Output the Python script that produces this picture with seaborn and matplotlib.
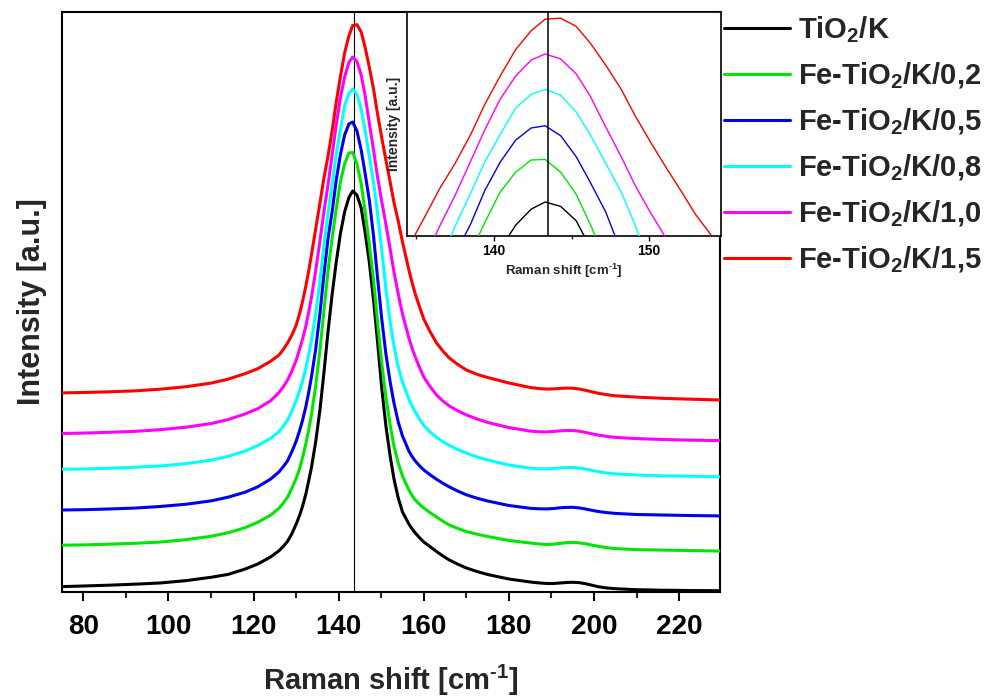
import numpy as np
import pandas as pd
import matplotlib
matplotlib.use("Agg")
import matplotlib.pyplot as plt
from matplotlib import font_manager
from matplotlib.lines import Line2D
from matplotlib.ticker import MultipleLocator
import seaborn as sns

# Raman shift axis (cm^-1), shared by all spectra
raman_shift = [75, 80, 86, 92, 98, 104, 110, 114, 118, 121,
               124, 126, 127, 128, 129, 130, 130.8, 131.5, 132.3, 133,
               133.6, 134.6, 135.6, 136.5, 137.5, 138.5, 139.4, 140.4, 141.4, 142.4,
               143.3, 144.3, 145.3, 146.2, 147.2, 148.2, 149.1, 150.1, 151.1, 152.1,
               153.0, 154.0, 155.0, 156.5, 157.2, 158, 159, 160, 161.5, 163,
               164.5, 166, 168, 170, 172.5, 175, 180, 185, 187, 189,
               190.5, 192, 193.5, 195, 196.5, 198, 199.5, 201, 203, 205,
               210, 216, 222, 229.6]

# Stacked (offset) intensities, arbitrary units
tio2_k = [5.4, 6.0, 6.8, 7.8, 9.0, 11.3, 14.7, 17.6, 22.9, 28.0,
          35.0, 41.3, 45.6, 50.7, 58.2, 67.7, 76.4, 85.5, 98.1, 112.0,
          124.3, 150.0, 182.0, 217.6, 260.4, 298.8, 328.9, 358.1, 380.0, 394.5,
          401.0, 397.0, 384.0, 360.0, 330.0, 292.0, 252.0, 205.0, 166.0, 136.0,
          113.0, 94.0, 80.0, 68.0, 63.5, 59.0, 54.3, 50.0, 45.3, 40.5,
          36.0, 32.0, 27.8, 24.0, 20.5, 17.5, 13.0, 10.0, 9.1, 8.5,
          8.5, 9.0, 9.5, 9.7, 9.4, 8.3, 6.8, 5.3, 4.0, 3.3,
          2.3, 1.8, 1.5, 1.3]
fe_tio2_k_02 = [46.8, 47.1, 47.8, 48.7, 49.9, 52.3, 55.7, 59.2, 64.3, 69.7,
                76.8, 83.8, 88.9, 94.9, 103.6, 113.4, 122.9, 134.0, 148.5, 162.8,
                177.0, 206.0, 241.5, 280.0, 321.0, 355.0, 382.0, 410.0, 428.0, 439.0,
                439.5, 428.0, 408.0, 381.0, 348.0, 312.0, 272.0, 230.0, 195.0, 167.0,
                146.0, 129.0, 116.0, 102.0, 96.8, 92.0, 87.7, 84.0, 79.3, 75.0,
                70.8, 67.0, 63.5, 60.5, 57.8, 55.5, 51.5, 49.0, 48.1, 47.5,
                47.8, 48.6, 49.3, 49.6, 49.2, 48.2, 46.9, 45.7, 44.3, 43.4,
                42.4, 41.9, 41.5, 40.9]
fe_tio2_k_05 = [82.0, 82.3, 83.0, 83.9, 85.5, 87.7, 91.1, 94.8, 99.8, 105.2,
                112.9, 120.2, 125.4, 131.2, 140.2, 150.6, 161.0, 171.4, 185.5, 200.6,
                214.7, 242.8, 278.3, 315.8, 353.5, 381.0, 411.0, 437.0, 457.0, 468.0,
                470.0, 461.0, 442.0, 419.0, 392.0, 356.0, 316.0, 274.0, 238.0, 210.0,
                189.0, 170.0, 156.0, 141.0, 135.8, 131.0, 126.2, 122.0, 117.2, 112.7,
                108.7, 105.1, 100.9, 97.2, 93.8, 91.0, 86.5, 83.7, 83.2, 83.1,
                83.5, 84.2, 84.6, 84.7, 84.1, 83.0, 81.7, 80.5, 79.4, 78.6,
                77.5, 77.0, 76.5, 76.1]
fe_tio2_k_08 = [122.8, 123.0, 123.7, 124.7, 126.0, 128.3, 131.8, 135.6, 140.8, 146.4,
                153.6, 160.4, 165.8, 171.9, 180.8, 191.1, 200.8, 210.6, 224.0, 238.2,
                251.3, 278.3, 311.0, 345.6, 379.0, 409.0, 437.0, 462.0, 486.0, 498.5,
                503.0, 497.6, 482.5, 462.0, 436.0, 410.0, 380.0, 343.0, 303.0, 270.0,
                246.0, 225.0, 210.0, 193.0, 186.5, 180.0, 173.0, 166.5, 160.0, 154.6,
                150.3, 146.6, 142.5, 138.9, 135.1, 131.9, 127.0, 123.8, 123.2, 123.1,
                123.5, 124.1, 124.5, 124.6, 124.0, 122.9, 121.6, 120.3, 119.0, 118.1,
                117.0, 116.2, 115.8, 115.2]
fe_tio2_k_10 = [158.5, 158.9, 159.7, 160.6, 162.3, 164.7, 168.4, 172.4, 178.0, 183.3,
                191.2, 199.5, 205.3, 211.9, 220.9, 231.4, 242.4, 252.6, 266.0, 280.7,
                294.4, 321.0, 351.0, 379.0, 407.0, 438.0, 466.0, 494.0, 515.0, 529.5,
                535.0, 530.5, 517.0, 497.0, 469.0, 442.0, 416.0, 391.0, 368.0, 343.0,
                320.0, 298.0, 278.0, 254.0, 244.5, 235.0, 224.6, 215.0, 205.3, 197.0,
                191.0, 186.0, 181.2, 177.1, 173.0, 169.6, 164.4, 160.9, 160.2, 160.1,
                160.5, 161.1, 161.5, 161.5, 160.8, 159.6, 158.2, 156.9, 155.6, 154.6,
                153.4, 152.5, 151.9, 151.4]
fe_tio2_k_15 = [199.1, 199.5, 200.2, 201.1, 202.8, 205.2, 208.9, 212.8, 218.3, 223.3,
                230.7, 237.0, 242.6, 249.0, 256.8, 266.5, 278.0, 290.0, 306.0, 322.0,
                337.0, 363.0, 389.0, 413.0, 436.0, 462.0, 489.0, 515.0, 539.0, 556.0,
                566.5, 567.4, 560.0, 545.0, 525.0, 503.0, 479.0, 455.0, 432.0, 410.0,
                389.5, 371.0, 350.0, 322.0, 310.3, 298.0, 285.2, 273.0, 260.2, 249.0,
                240.9, 234.0, 227.5, 222.0, 217.7, 214.5, 209.0, 204.5, 203.4, 202.9,
                203.1, 203.6, 203.9, 203.8, 203.0, 201.7, 200.2, 198.7, 197.3, 196.2,
                194.9, 193.7, 192.9, 192.0]

sample_names = ["TiO$_2$/K", "Fe-TiO$_2$/K/0,2", "Fe-TiO$_2$/K/0,5",
                "Fe-TiO$_2$/K/0,8", "Fe-TiO$_2$/K/1,0", "Fe-TiO$_2$/K/1,5"]
line_colors = ["#000000", "#00e600", "#0000ee", "#00ffff", "#ff00ff", "#ff0000"]
peak_position = 143.5
main_ticks = [80, 100, 120, 140, 160, 180, 200, 220]
inset_ticks = [140, 150]
x_title = "Raman shift [cm$^{\u20101}$]"
y_title = "Intensity [a.u.]"

sns.set_theme(style="white")
installed = {f.name for f in font_manager.fontManager.ttflist}
narrow = "Liberation Sans Narrow" if "Liberation Sans Narrow" in installed else "Liberation Sans"
plt.rcParams.update({
    "font.family": ["Liberation Sans", "DejaVu Sans"],
    "font.weight": "bold",
    "mathtext.fontset": "custom",
    "mathtext.rm": "Liberation Sans:bold",
    "mathtext.bf": "Liberation Sans:bold",
    "mathtext.it": "Liberation Sans:bold:italic",
    "mathtext.default": "rm",
    "axes.edgecolor": "black",
})

spectra = [tio2_k, fe_tio2_k_02, fe_tio2_k_05, fe_tio2_k_08, fe_tio2_k_10, fe_tio2_k_15]
df = pd.DataFrame({
    "shift": np.tile(raman_shift, len(spectra)),
    "intensity": np.concatenate(spectra),
    "sample": np.repeat(sample_names, len(raman_shift)),
})

W, H = 988, 698
fig = plt.figure(figsize=(W / 100, H / 100), dpi=100)

# ---- main panel ----
ax = fig.add_axes([62 / W, 1 - 592 / H, 658 / W, 580 / H])
sns.lineplot(data=df, x="shift", y="intensity", hue="sample", hue_order=sample_names,
             palette=line_colors, linewidth=2.2, estimator=None, sort=False,
             legend=False, ax=ax, zorder=3, solid_joinstyle="round")
ax.axvline(peak_position, color="black", lw=0.8, zorder=2)
ax.set_xlim(75, 229.6)
ax.set_ylim(0, 580)
ax.set_yticks([])
ax.set_xticks(main_ticks)
ax.xaxis.set_minor_locator(MultipleLocator(10))
ax.tick_params(axis="x", which="major", direction="out", length=6.5, width=1.5,
               pad=9, labelsize=20, bottom=True, colors="black")
ax.tick_params(axis="x", which="minor", direction="out", length=4.0, width=1.5, bottom=True)
for lbl in ax.get_xticklabels():
    lbl.set_fontfamily(narrow)
    lbl.set_fontweight("bold")
for sp in ax.spines.values():
    sp.set_linewidth(1.5)
    sp.set_color("black")
ax.set_xlabel(x_title, fontsize=21, fontweight="bold", labelpad=17)
ax.set_ylabel(y_title, fontsize=22, fontweight="bold", labelpad=11)

# ---- inset: zoom on the main band ----
ins = fig.add_axes([407 / W, 1 - 236 / H, 314 / W, 224 / H])
ins.set_facecolor("white")
sns.lineplot(data=df, x="shift", y="intensity", hue="sample", hue_order=sample_names,
             palette=line_colors, linewidth=1.0, estimator=None, sort=False,
             legend=False, ax=ins, zorder=3)
ins.axvline(peak_position, color="black", lw=1.1, zorder=4)
ins.set_xlim(134.4, 154.63)
ins.set_ylim(370.2, 573)
ins.set_yticks([])
ins.set_xticks(inset_ticks)
ins.xaxis.set_minor_locator(MultipleLocator(5))
ins.tick_params(axis="x", which="major", direction="out", length=3.5, width=1.0,
                pad=2, labelsize=10, bottom=True, colors="black")
ins.tick_params(axis="x", which="minor", direction="out", length=2.5, width=1.0, bottom=True)
for lbl in ins.get_xticklabels():
    lbl.set_fontfamily(narrow)
    lbl.set_fontweight("bold")
for sp in ins.spines.values():
    sp.set_linewidth(1.2)
    sp.set_color("black")
ins.set_xlabel(x_title, fontsize=9.5, fontweight="bold", labelpad=3)
ins.set_ylabel(y_title, fontsize=10, fontweight="bold", family=narrow, labelpad=4)

# ---- legend ----
handles = [Line2D([], [], color=c, lw=2.2) for c in line_colors]
fig.legend(handles, sample_names, loc="upper left", bbox_to_anchor=(724 / W, 1 - 14 / H),
           frameon=False, fontsize=21, handlelength=2.25, handletextpad=0.3,
           labelspacing=0.53, borderpad=0, borderaxespad=0)

fig.savefig("out.png", dpi=100)
